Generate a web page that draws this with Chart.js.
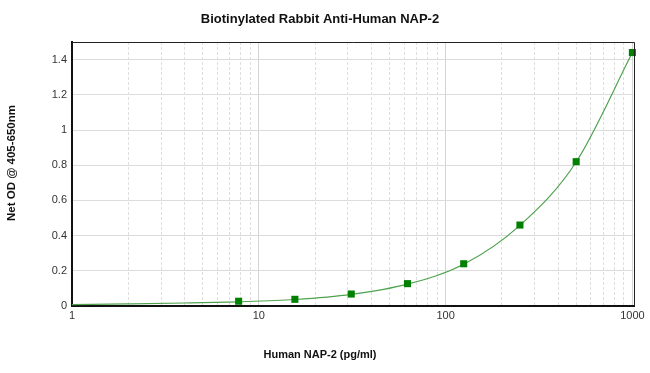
<!DOCTYPE html>
<html><head><meta charset="utf-8">
<script src="https://cdn.jsdelivr.net/npm/chart.js@4"></script>
<style>html,body{margin:0;padding:0;background:#fff}#wrap{width:650px;height:373px}</style>
</head><body><div id="wrap"><canvas id="c" width="650" height="373"></canvas></div>
<script>
const chartTitle = 'Biotinylated Rabbit Anti-Human NAP-2';
const xAxisTitle = 'Human NAP-2 (pg/ml)';
const yAxisTitle = 'Net OD @ 405-650nm';
const standardConc = [7.8, 15.6, 31.25, 62.5, 125, 250, 500, 1000];
const standardOD = [0.027, 0.038, 0.068, 0.127, 0.240, 0.460, 0.820, 1.440];
const curveConc = [1, 2, 4, 7.8, 15.6, 31.25, 62.5, 125, 250, 500, 1000];
const curveOD = [0.008, 0.012, 0.017, 0.024, 0.037, 0.066, 0.124, 0.237, 0.458, 0.818, 1.440];
const xTickLabels = [1, 10, 100, 1000];
const xMinorGrid = [2, 3, 4, 5, 6, 7, 8, 9, 20, 30, 40, 50, 60, 70, 80, 90, 200, 300, 400, 500, 600, 700, 800, 900];
const yTickLabels = [0, 0.2, 0.4, 0.6, 0.8, 1, 1.2, 1.4];

const FONT = '"Liberation Sans", Arial, sans-serif';

const decorPlugin = {
  id: 'decor',
  afterDraw(chart) {
    const {ctx, chartArea: a} = chart;
    ctx.save();
    ctx.strokeStyle = '#222';
    ctx.lineWidth = 1;
    ctx.beginPath();
    ctx.moveTo(a.left, a.top + 0.5);
    ctx.lineTo(a.right + 0.5, a.top + 0.5);
    ctx.lineTo(a.right + 0.5, a.bottom);
    ctx.stroke();
    ctx.fillStyle = '#111';
    ctx.textAlign = 'center';
    ctx.textBaseline = 'middle';
    ctx.font = 'bold 13px ' + FONT;
    ctx.fillText(chartTitle, 320, 19);
    ctx.font = 'bold 11px ' + FONT;
    ctx.fillText(xAxisTitle, 320, 355);
    ctx.font = 'bold 11.5px ' + FONT;
    ctx.translate(12, 163);
    ctx.rotate(-Math.PI / 2);
    ctx.fillText(yAxisTitle, 0, 0);
    ctx.restore();
  }
};

new Chart(document.getElementById('c'), {
  type: 'scatter',
  data: {
    datasets: [
      {
        label: 'Standards',
        data: standardConc.map((x, i) => ({x, y: standardOD[i]})),
        pointStyle: 'rect',
        pointRadius: 5,
        pointBackgroundColor: '#008000',
        pointBorderColor: '#008000',
        pointBorderWidth: 0,
        showLine: false,
        clip: false
      },
      {
        label: 'Fit',
        data: curveConc.map((x, i) => ({x, y: curveOD[i]})),
        showLine: true,
        borderColor: '#4fa24f',
        borderWidth: 1.2,
        pointRadius: 0,
        cubicInterpolationMode: 'monotone',
        fill: false
      }
    ]
  },
  options: {
    responsive: false,
    devicePixelRatio: 1,
    animation: false,
    layout: {padding: {top: 42, right: 16, left: 0, bottom: 0}},
    plugins: {legend: {display: false}, tooltip: {enabled: false}, title: {display: false}},
    scales: {
      x: {
        type: 'logarithmic',
        min: 1,
        max: 1020,
        afterBuildTicks(scale) {
          scale.ticks = [...xTickLabels, ...xMinorGrid].sort((a, b) => a - b)
            .map(v => ({value: v, major: xTickLabels.includes(v)}));
        },
        afterFit(scale) { scale.height = 67; },
        ticks: {
          autoSkip: false,
          maxRotation: 0,
          padding: 3,
          color: '#333',
          font: {family: FONT, size: 11},
          callback: (v) => xTickLabels.includes(v) ? String(v) : ''
        },
        grid: {
          drawTicks: false,
          color: (ctx) => (ctx.tick && xTickLabels.includes(ctx.tick.value)) ? '#d4d4d4' : '#dedede',
          lineWidth: 1
        },
        border: {
          display: true,
          color: '#111',
          width: 2,
          dash: (ctx) => (ctx.tick && !xTickLabels.includes(ctx.tick.value)) ? [3, 2] : []
        }
      },
      y: {
        type: 'linear',
        min: 0,
        max: 1.5,
        afterBuildTicks(scale) {
          scale.ticks = yTickLabels.map(v => ({value: v}));
        },
        afterFit(scale) { scale.width = 72; },
        ticks: {
          padding: 5,
          color: '#333',
          font: {family: FONT, size: 11},
          callback: (v) => String(v)
        },
        grid: {drawTicks: false, color: '#dcdcdc', lineWidth: 1},
        border: {display: true, color: '#111', width: 2}
      }
    }
  },
  plugins: [decorPlugin]
});
</script>
</body></html>
